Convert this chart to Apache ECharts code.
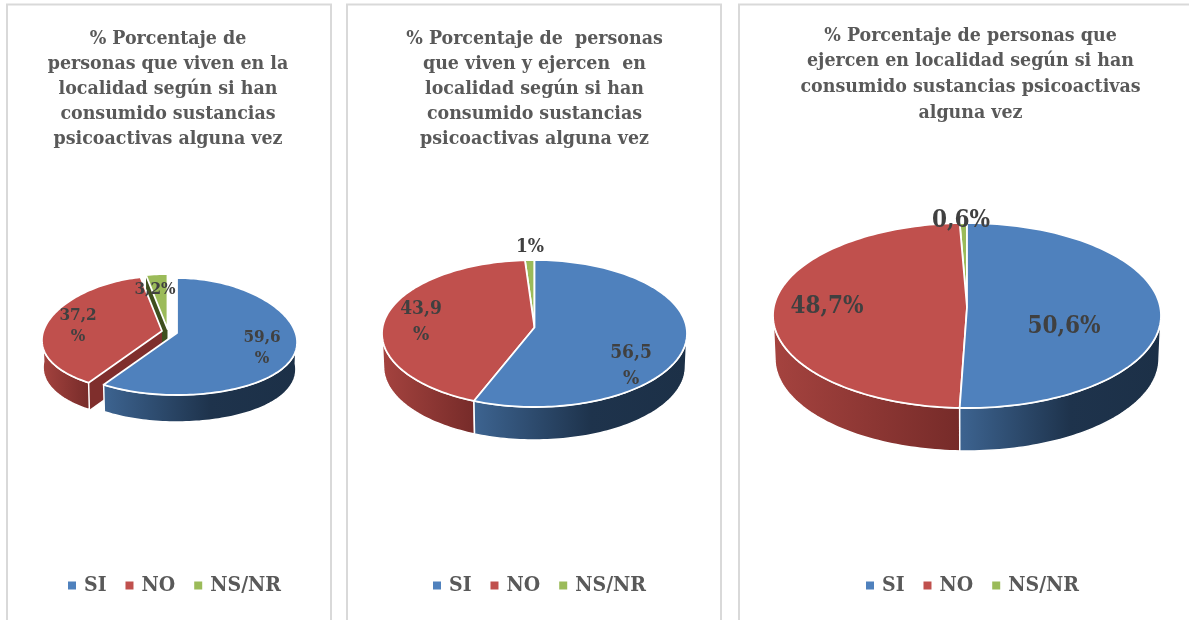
<!DOCTYPE html>
<html><head><meta charset="utf-8">
<style>html,body{margin:0;padding:0;background:#fff;overflow:hidden}#c{width:1189px;height:620px}</style>
<script src="https://cdn.jsdelivr.net/npm/echarts@6/dist/echarts.min.js"></script>
</head><body><div id="c"></div>
<script>
const categories = ['SI', 'NO', 'NS/NR'];
const valuesViven = [59.6, 37.2, 3.2];
const valuesVivenEjercen = [56.5, 43.9, 1];
const valuesEjercen = [50.6, 48.7, 0.6];
const labelsViven = ['59,6\n%', '37,2\n%', '3,2%'];
const labelsVivenEjercen = ['56,5\n%', '43,9\n%', '1%'];
const labelsEjercen = ['50,6%', '48,7%', '0,6%'];
const titleViven = '% Porcentaje de\npersonas que viven en la\nlocalidad según si han\nconsumido sustancias\npsicoactivas alguna vez';
const titleVivenEjercen = '% Porcentaje de  personas\nque viven y ejercen  en\nlocalidad según si han\nconsumido sustancias\npsicoactivas alguna vez';
const titleEjercen = '% Porcentaje de personas que\nejercen en localidad según si han\nconsumido sustancias psicoactivas\nalguna vez';

const FONT = '"DejaVu Serif Condensed","Liberation Serif"';
const topColors = ['#4f81bd', '#c0504d', '#9bbb59'];
const sideColors = [
  [[0, '#3d6491'], [0.55, '#1e334c'], [1, '#1c3047']],
  [[0, '#a5433f'], [1, '#762b29']],
  [[0, '#6d8a38'], [1, '#4a5e22']]
];
const cutColors = ['#1e334c', '#7f2e2c', '#3f4f1e'];

const panels = [
  { x: 7, w: 324, tx: 168, ty: 26, fs: 19.4, tlh: 25.2, cx: 177, cy: 336.5, rx: 119.5, ry: 58.5, depth: 27, apexDy: -3.5, persp: 0.1,
    shift: [[0, 0], [-15, -2], [-9.5, -4]], legendX: 68, labelSize: 17, labelLH: 21,
    labelPos: [[262, 348], [78, 326], [155, 290]],
    values: valuesViven, labels: labelsViven, title: titleViven },
  { x: 347, w: 374, tx: 534.5, ty: 26, fs: 19.4, tlh: 25.2, cx: 534.5, cy: 333.5, rx: 152.5, ry: 73.5, depth: 33, apexDy: -6, persp: 0,
    shift: [[0, 0], [0, 0], [0, 0]], legendX: 433, labelSize: 19, labelLH: 26,
    labelPos: [[631, 366], [421, 322], [530, 247]],
    values: valuesVivenEjercen, labels: labelsVivenEjercen, title: titleVivenEjercen },
  { x: 739, w: 470, tx: 970.5, ty: 23, fs: 19.4, tlh: 25.6, cx: 967, cy: 315.5, rx: 194, ry: 92.5, depth: 43, apexDy: -8, persp: 0,
    shift: [[0, 0], [0, 0], [0, 0]], legendX: 866, labelSize: 24, labelLH: 27,
    labelPos: [[1064, 327], [827, 307], [961, 221]],
    values: valuesEjercen, labels: labelsEjercen, title: titleEjercen }
];

function sliceAngles(values, idx) {
  const blueEnd = values[0] * 3.6;
  const greenStart = 360 - values[2] * 3.6;
  return [[0, blueEnd], [blueEnd, greenStart], [greenStart, 360]][idx];
}

function makeRenderItem(p, idx) {
  return function (params, api) {
    const value = api.value(0);
    const [a0, a1] = sliceAngles(p.values, idx);
    const cx = p.cx + p.shift[idx][0], cy = p.cy + p.shift[idx][1];
    const pt = a => {
      const r = a * Math.PI / 180;
      return [cx + p.rx * Math.sin(r) * (1 - p.persp * Math.cos(r)), cy - p.ry * Math.cos(r)];
    };
    const arc = (from, to) => {
      const out = [];
      const n = Math.max(2, Math.ceil((to - from) / 1.5));
      for (let i = 0; i <= n; i++) out.push(pt(from + (to - from) * i / n));
      return out;
    };
    const apex = [cx, cy + p.apexDy];
    const down = q => [cx + (q[0] - cx) * 0.99, q[1] + p.depth];
    const children = [];
    const exploded = p.shift[idx][0] !== 0 || p.shift[idx][1] !== 0;
    if (exploded) {
      [a0, a1].forEach(a => {
        const e = pt(a);
        children.push({ type: 'polygon', shape: { points: [apex, e, down(e), down(apex)] },
          style: { fill: cutColors[idx] } });
      });
    }
    const s0 = Math.max(a0, 90), s1 = Math.min(a1, 270);
    if (s1 > s0) {
      const front = arc(s0, s1);
      children.push({ type: 'polygon',
        shape: { points: front.concat(front.slice().reverse().map(down)) },
        style: {
          fill: new echarts.graphic.LinearGradient(0, 0, 1, 0,
            sideColors[idx].map(c => ({ offset: c[0], color: c[1] })), false),
          stroke: '#fff', lineWidth: 1.5 } });
    }
    children.push({ type: 'polygon', shape: { points: [apex].concat(arc(a0, a1)) },
      style: { fill: topColors[idx], stroke: '#fff', lineWidth: 1.8, lineJoin: 'round' } });
    children.push({ type: 'text', z2: 100,
      style: { text: p.labels[idx], x: p.labelPos[idx][0], y: p.labelPos[idx][1],
        align: 'center', verticalAlign: 'middle', fill: '#404040',
        font: 'bold ' + p.labelSize + 'px ' + FONT,
        lineHeight: p.labelLH } });
    return { type: 'group', children: children, info: value };
  };
}

const series = [];
panels.forEach(p => {
  [2, 1, 0].forEach(idx => {
    series.push({
      type: 'custom', name: categories[idx], coordinateSystem: 'none',
      silent: true, animation: false, clip: false,
      itemStyle: { color: topColors[idx] },
      data: [[p.values[idx]]],
      renderItem: makeRenderItem(p, idx)
    });
  });
});

const chart = echarts.init(document.getElementById('c'), null, { renderer: 'canvas' });
chart.setOption({
  backgroundColor: '#fff',
  animation: false,
  graphic: panels.map(p => ({
    type: 'rect', silent: true, z: 0,
    shape: { x: p.x, y: 4.5, width: p.w, height: 640 },
    style: { fill: '#fff', stroke: '#d9d9d9', lineWidth: 2 }
  })),
  title: panels.map(p => ({
    text: p.title, left: p.tx, top: p.ty, textAlign: 'center', padding: 0,
    textStyle: { fontFamily: FONT, fontWeight: 'bold', fontSize: p.fs, lineHeight: p.tlh, color: '#595959' }
  })),
  legend: panels.map(p => ({
    left: p.legendX, top: 575, orient: 'horizontal', padding: 0,
    data: categories, icon: 'rect', itemWidth: 8, itemHeight: 8, itemGap: 19, selectedMode: false,
    textStyle: { fontFamily: FONT, fontWeight: 'bold', fontSize: 21, color: '#595959', padding: [0, 0, 0, 3] }
  })),
  series: series
});
</script></body></html>
